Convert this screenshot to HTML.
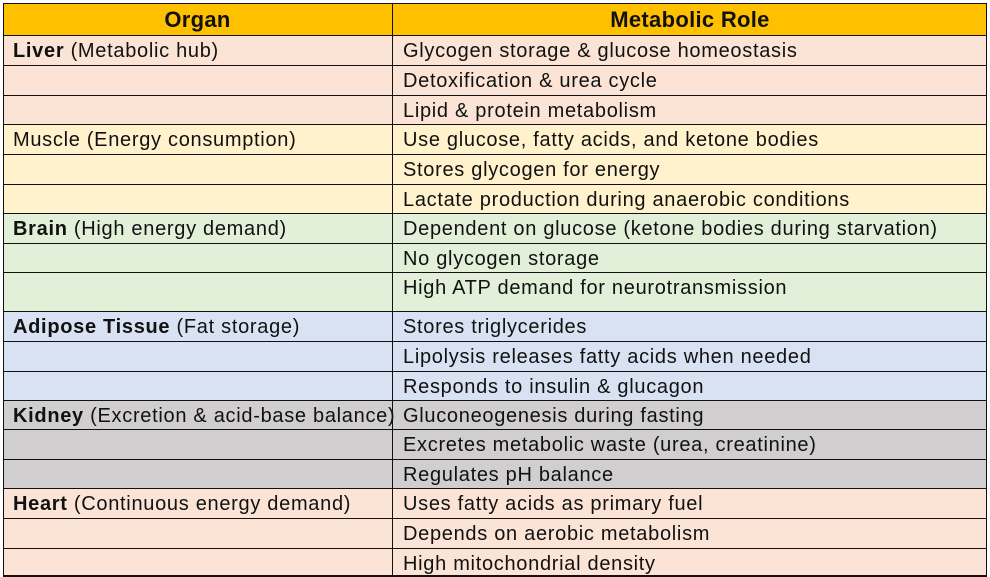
<!DOCTYPE html>
<html><head><meta charset="utf-8"><style>
body{margin:0;width:990px;height:577px;background:#fff;overflow:hidden;font-family:"Liberation Sans",Arial,sans-serif;}
.r{position:absolute;left:3px;width:984px;box-sizing:border-box;border-bottom:1.5px solid #111;}
.c{position:absolute;top:0;bottom:0;box-sizing:border-box;font-size:20px;letter-spacing:0.7px;color:#111;padding-left:10px;display:flex;align-items:flex-start;padding-top:4px;white-space:nowrap;}
.c1{left:0;width:390px;border-right:1.5px solid #111;}
.c2{left:390px;right:0;}
.hdr .c{justify-content:center;padding-left:0;font-weight:bold;font-size:22px;letter-spacing:0.3px;padding-top:4px;}
</style></head><body>
<div id="t" style="position:absolute;left:0;top:0;width:990px;height:577px;">
<div style="position:absolute;left:3px;top:3px;width:984px;height:573px;border:1.5px solid #111;box-sizing:border-box;z-index:2;pointer-events:none"></div>
</div>
<script>
const rows=[
["hdr","#FFC000",3,36,"Organ","","Metabolic Role"],
["r","#FBE4D5",36,66,"Liver"," (Metabolic hub)","Glycogen storage & glucose homeostasis"],
["r","#FBE4D5",66,96,"","","Detoxification & urea cycle"],
["r","#FBE4D5",96,125,"","","Lipid & protein metabolism"],
["r","#FFF2CC",125,155,"","Muscle (Energy consumption)","Use glucose, fatty acids, and ketone bodies"],
["r","#FFF2CC",155,185,"","","Stores glycogen for energy"],
["r","#FFF2CC",185,214,"","","Lactate production during anaerobic conditions"],
["r","#E2EFD9",214,244,"Brain"," (High energy demand)","Dependent on glucose (ketone bodies during starvation)"],
["r","#E2EFD9",244,273,"","","No glycogen storage"],
["r","#E2EFD9",273,312,"","","High ATP demand for neurotransmission"],
["r","#D9E2F3",312,342,"Adipose Tissue"," (Fat storage)","Stores triglycerides"],
["r","#D9E2F3",342,372,"","","Lipolysis releases fatty acids when needed"],
["r","#D9E2F3",372,401,"","","Responds to insulin & glucagon"],
["r","#D0CECE",401,430,"Kidney"," (Excretion & acid-base balance)","Gluconeogenesis during fasting"],
["r","#D0CECE",430,460,"","","Excretes metabolic waste (urea, creatinine)"],
["r","#D0CECE",460,489,"","","Regulates pH balance"],
["r","#FBE4D5",489,519,"Heart"," (Continuous energy demand)","Uses fatty acids as primary fuel"],
["r","#FBE4D5",519,549,"","","Depends on aerobic metabolism"],
["r","#FBE4D5",549,577,"","","High mitochondrial density"]
];
const t=document.getElementById('t');
rows.forEach((r,i)=>{
 const d=document.createElement('div');
 
 
 d.className='r'+(r[0]=='hdr'?' hdr':'');
 d.style.top=r[2]+'px';d.style.height=(r[3]-r[2])+'px';d.style.background=r[1];
 const a=document.createElement('div');
 
 
 a.className='c c1';
 if(r[4]){const b=document.createElement('b');b.textContent=r[4];a.appendChild(b);}
 if(r[5]){a.appendChild(document.createTextNode(r[5].replace(/^ /,'\u00a0')));}
 const c=document.createElement('div');
 
 
 c.className='c c2';c.textContent=r[6];
 d.appendChild(a);d.appendChild(c);t.appendChild(d);
});
</script>
</body></html>
